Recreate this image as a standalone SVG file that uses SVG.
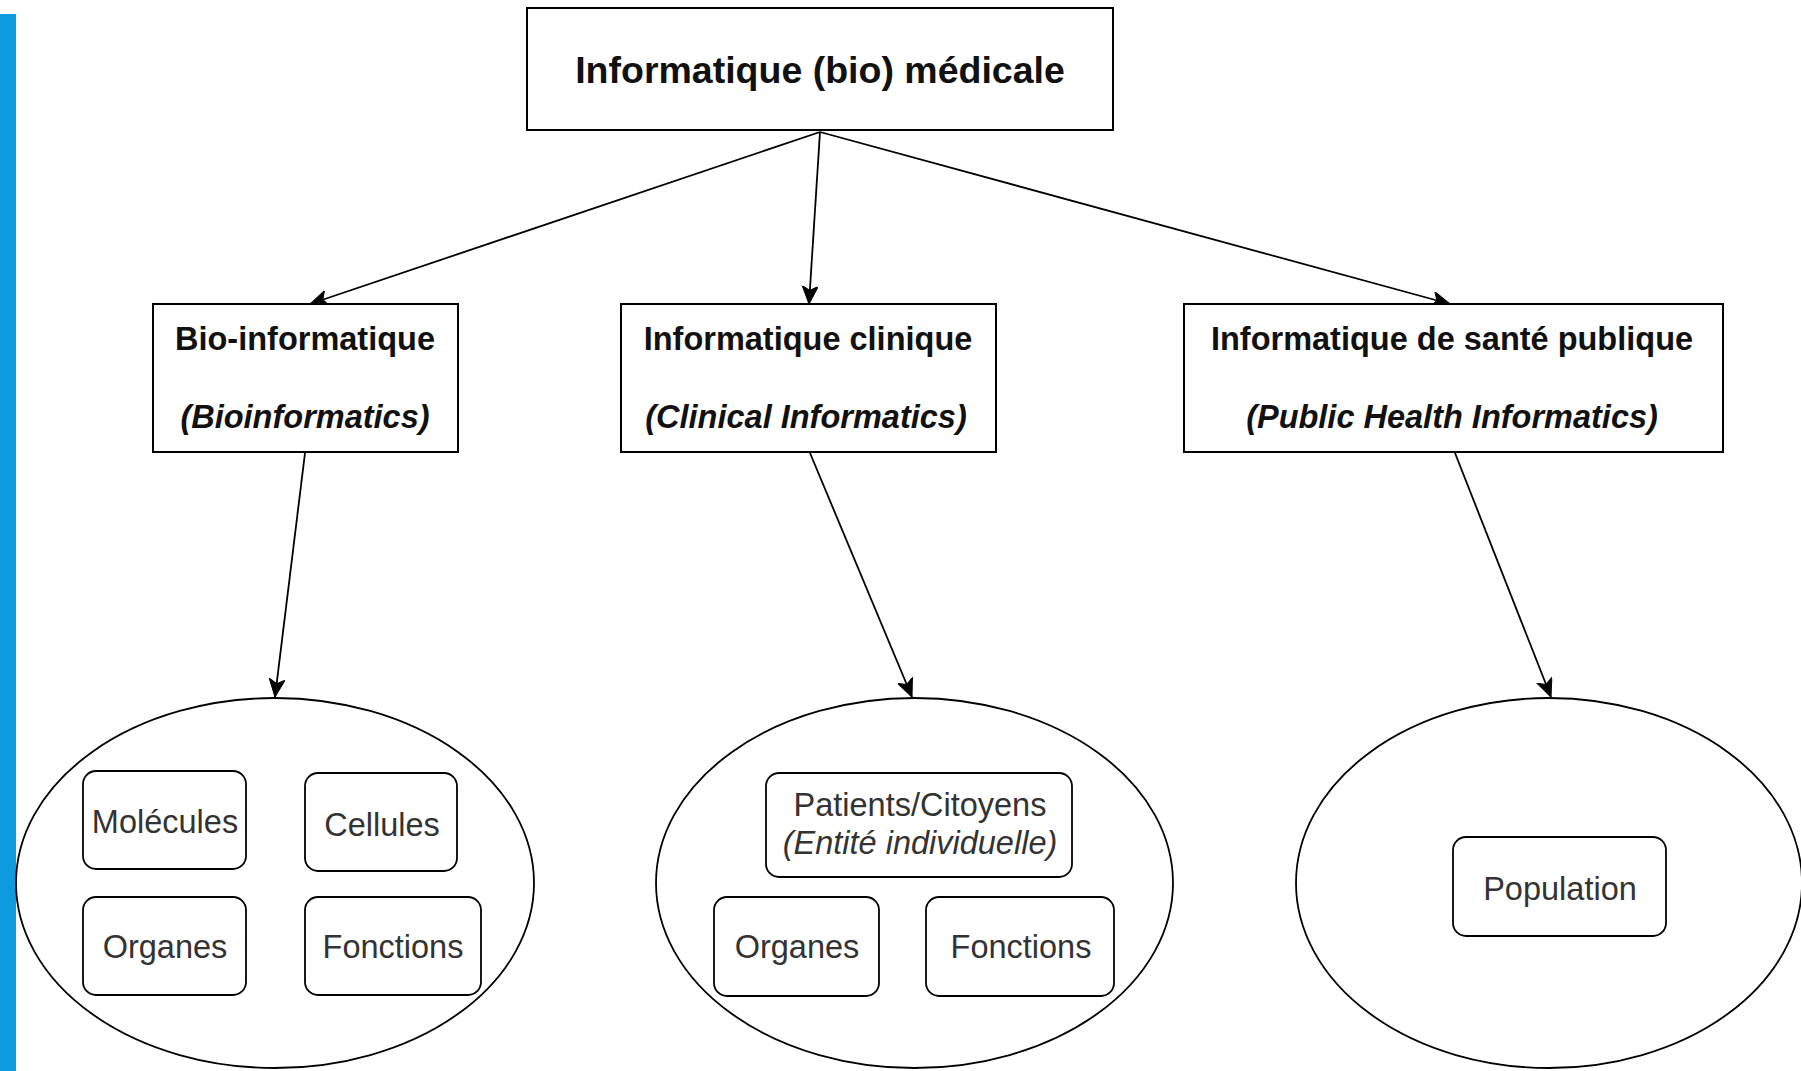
<svg xmlns="http://www.w3.org/2000/svg" width="1801" height="1071" viewBox="0 0 1801 1071">
<style>
.box{fill:#fff;stroke:#000;stroke-width:2}
.rbox{fill:#fff;stroke:#000;stroke-width:1.8}
.ell{fill:#fff;stroke:#000;stroke-width:1.8}
.conn{fill:none;stroke:#000;stroke-width:1.8}
.h{font-family:"Liberation Sans",Arial,sans-serif;font-weight:bold;fill:#111;text-anchor:middle;font-size:32.5px}
.hi{font-style:italic}
.t{font-family:"Liberation Sans",Arial,sans-serif;fill:#333;text-anchor:middle;font-size:32.5px}
</style>
<defs>
<marker id="arr" markerUnits="userSpaceOnUse" markerWidth="22" markerHeight="18" refX="18" refY="8" orient="auto">
<path d="M0,0 L18,8 L0,16 L4.5,8 z" fill="#000" stroke="#000" stroke-width="1"/>
</marker>
</defs>
<rect x="0" y="14" width="16" height="1057" fill="#0e9ade"/>
<g id="connectors">
<line class="conn" x1="820" y1="132" x2="310" y2="304" marker-end="url(#arr)"/>
<line class="conn" x1="820" y1="132" x2="809" y2="304" marker-end="url(#arr)"/>
<line class="conn" x1="820" y1="132" x2="1450" y2="304" marker-end="url(#arr)"/>
<line class="conn" x1="305" y1="453" x2="275" y2="697" marker-end="url(#arr)"/>
<line class="conn" x1="810" y1="453" x2="912" y2="697" marker-end="url(#arr)"/>
<line class="conn" x1="1455" y1="453" x2="1551" y2="697" marker-end="url(#arr)"/>
</g>
<g id="root">
<rect class="box" x="527" y="8" width="586" height="122"/>
<text class="h" x="820" y="83" style="font-size:37.5px">Informatique (bio) médicale</text>
</g>
<g id="bio">
<rect class="box" x="153" y="304" width="305" height="148"/>
<text class="h" x="305" y="350">Bio-informatique</text>
<text class="h hi" x="305" y="428">(Bioinformatics)</text>
</g>
<g id="clinical">
<rect class="box" x="621" y="304" width="375" height="148"/>
<text class="h" x="808" y="350">Informatique clinique</text>
<text class="h hi" x="806" y="428">(Clinical Informatics)</text>
</g>
<g id="public">
<rect class="box" x="1184" y="304" width="539" height="148"/>
<text class="h" x="1452" y="350">Informatique de santé publique</text>
<text class="h hi" x="1452" y="428">(Public Health Informatics)</text>
</g>
<g id="bio-scope">
<ellipse class="ell" cx="275" cy="883" rx="259" ry="185"/>
</g>
<g id="molecules">
<rect class="rbox" x="83" y="771" width="163" height="98" rx="13"/>
<text class="t" x="165" y="833">Molécules</text>
</g>
<g id="cellules">
<rect class="rbox" x="305" y="773" width="152" height="98" rx="13"/>
<text class="t" x="382" y="836">Cellules</text>
</g>
<g id="organes-bio">
<rect class="rbox" x="83" y="897" width="163" height="98" rx="13"/>
<text class="t" x="165" y="958">Organes</text>
</g>
<g id="fonctions-bio">
<rect class="rbox" x="305" y="897" width="176" height="98" rx="13"/>
<text class="t" x="393" y="958">Fonctions</text>
</g>
<g id="clinical-scope">
<ellipse class="ell" cx="914.5" cy="883" rx="258.5" ry="185"/>
</g>
<g id="patients">
<rect class="rbox" x="766" y="773" width="306" height="104" rx="13"/>
<text class="t" x="920" y="816">Patients/Citoyens</text>
<text class="t" x="920" y="854" font-style="italic">(Entité individuelle)</text>
</g>
<g id="organes-clin">
<rect class="rbox" x="714" y="897" width="165" height="99" rx="13"/>
<text class="t" x="797" y="958">Organes</text>
</g>
<g id="fonctions-clin">
<rect class="rbox" x="926" y="897" width="188" height="99" rx="13"/>
<text class="t" x="1021" y="958">Fonctions</text>
</g>
<g id="public-scope">
<ellipse class="ell" cx="1549" cy="883" rx="253" ry="185"/>
</g>
<g id="population">
<rect class="rbox" x="1453" y="837" width="213" height="99" rx="13"/>
<text class="t" x="1560" y="900">Population</text>
</g>
</svg>
